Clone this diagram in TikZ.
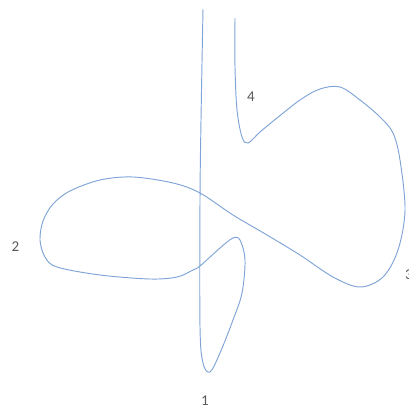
\documentclass[tikz,border=0pt]{standalone}
\usepackage{fontspec}
\setmainfont{Carlito}
\definecolor{CurveBlue}{RGB}{128,164,216}
\definecolor{LabelGrey}{RGB}{89,89,89}
\begin{document}
\begin{tikzpicture}[x=1pt, y=-1pt]
    \useasboundingbox (0,0) rectangle (408,412);
    % Closed strand drawn as one smooth curve
    \draw[CurveBlue, line width=0.95pt, smooth, tension=0.55] plot coordinates {
        (203,9) (201,120) (200,200) (200,327) (203,363) (210,372) (220,353)
        (233,320) (242,293) (245,260) (240,240) (233,238) (220,248) (200,266)
        (193,270) (177,277) (150,279) (100,275) (57,267) (45,257) (40,240)
        (43,221) (53,204) (70,191) (100,180) (133,177) (173,183) (200,193) (233,215)
        (267,235) (300,255) (333,277) (360,287) (383,277) (398,250) (405,210)
        (400,160) (393,133) (380,117) (360,100) (340,87) (320,89) (300,100)
        (277,118) (260,132) (248,143) (242,137) (237,110) (235,67) (235,18)};
    % Labels
    \node[text=LabelGrey, font=\fontsize{15}{18}\selectfont] (l4) at (251,97) {4};
    \node[text=LabelGrey, font=\fontsize{15}{18}\selectfont] (l2) at (15.5,247) {2};
    \node[text=LabelGrey, font=\fontsize{15}{18}\selectfont] (l1) at (205,401) {1};
    \node[text=LabelGrey, font=\fontsize{15}{18}\selectfont] (l3) at (409,275) {3};
\end{tikzpicture}
\end{document}
